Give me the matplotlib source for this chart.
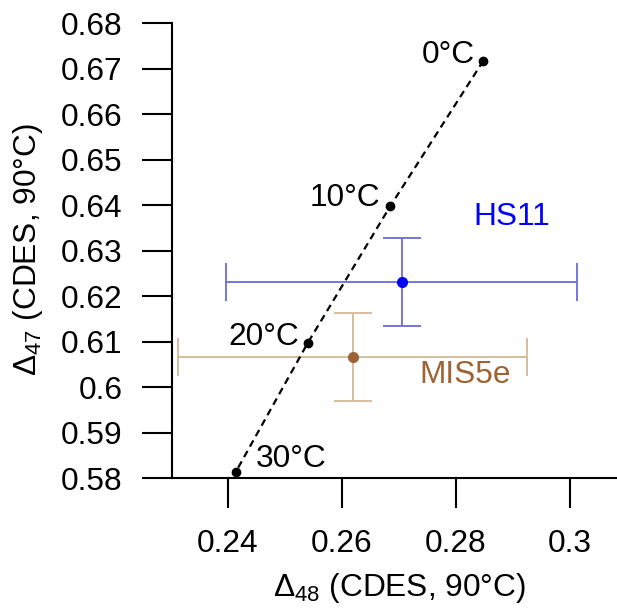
import matplotlib
matplotlib.use('Agg')
import matplotlib.pyplot as plt

plt.rcParams['font.family'] = ['Liberation Sans', 'DejaVu Sans']
plt.rcParams['mathtext.default'] = 'regular'

# calibration line (temperature -> D48, D47)
temp_labels = ['0°C', '10°C', '20°C', '30°C']
cal_d48 = [0.2848, 0.2685, 0.2540, 0.2414]
cal_d47 = [0.6717, 0.6398, 0.6097, 0.5814]

# samples
samples = ['HS11', 'MIS5e']
d48 = [0.2705, 0.2619]
d48_err = [0.0308, 0.0306]
d47 = [0.6231, 0.6066]
d47_err = [0.0097, 0.0097]
colors = ['#0000ff', '#9c6432']
err_colors = ['#6a6ae0', '#d3b998']

FS = 22.8

fig = plt.figure(figsize=(6.17, 6.09), dpi=100)
ax = fig.add_axes([172 / 617, 131 / 609, 445 / 617, 468 / 609])

ax.plot(cal_d48, cal_d47, ls=(0, (3.2, 2.2)), color='black', lw=1.6, zorder=3)
ax.plot(cal_d48, cal_d47, 'o', color='black', ms=6, zorder=4)

# label offsets in points (dx, dy, ha)
offsets = [(-6, 4, 'right'), (-7, 6, 'right'), (-6, 4, 'right'), (14, 9, 'left')]
for lab, x, y, (dx, dy, ha) in zip(temp_labels, cal_d48, cal_d47, offsets):
    ax.annotate(lab, (x, y), xytext=(dx, dy), textcoords='offset points',
                ha=ha, va='center', fontsize=FS)

for i in range(len(samples)):
    ax.errorbar(d48[i], d47[i], xerr=d48_err[i], yerr=d47_err[i], fmt='none',
                ecolor=err_colors[i], elinewidth=1.3, capsize=13.5, capthick=1.3,
                zorder=2)
    ax.plot(d48[i], d47[i], 'o', color=colors[i], ms=7, zorder=5)

ax.text(0.2898, 0.6374, samples[0], color=colors[0], fontsize=FS,
        ha='center', va='center')
ax.text(0.2816, 0.6026, samples[1], color=colors[1], fontsize=FS,
        ha='center', va='center')

ax.set_xlim(0.23018, 0.30825)
ax.set_ylim(0.58, 0.68286)
ax.set_xticks([0.24, 0.26, 0.28, 0.30])
ax.set_xticklabels(['0.24', '0.26', '0.28', '0.3'])
yt = [0.58 + 0.01 * i for i in range(11)]
ax.set_yticks(yt)
ax.set_yticklabels(['%g' % round(v, 2) for v in yt])

for s in ['top', 'right']:
    ax.spines[s].set_visible(False)
ax.spines['left'].set_bounds(0.58, 0.68)
ax.spines['left'].set_linewidth(1.5)
ax.spines['bottom'].set_linewidth(1.5)
ax.tick_params(axis='both', length=21.5, width=1.5, labelsize=FS)
ax.tick_params(axis='y', pad=14)
ax.tick_params(axis='x', pad=15)

fig.text(399 / 617, 1 - 588 / 609, 'Δ$_{48}$ (CDES, 90°C)', fontsize=FS,
         ha='center', va='center')
fig.text(28 / 617, 1 - 250 / 609, 'Δ$_{47}$ (CDES, 90°C)', fontsize=FS,
         ha='center', va='center', rotation=90)

fig.savefig('out.png', dpi=100)
